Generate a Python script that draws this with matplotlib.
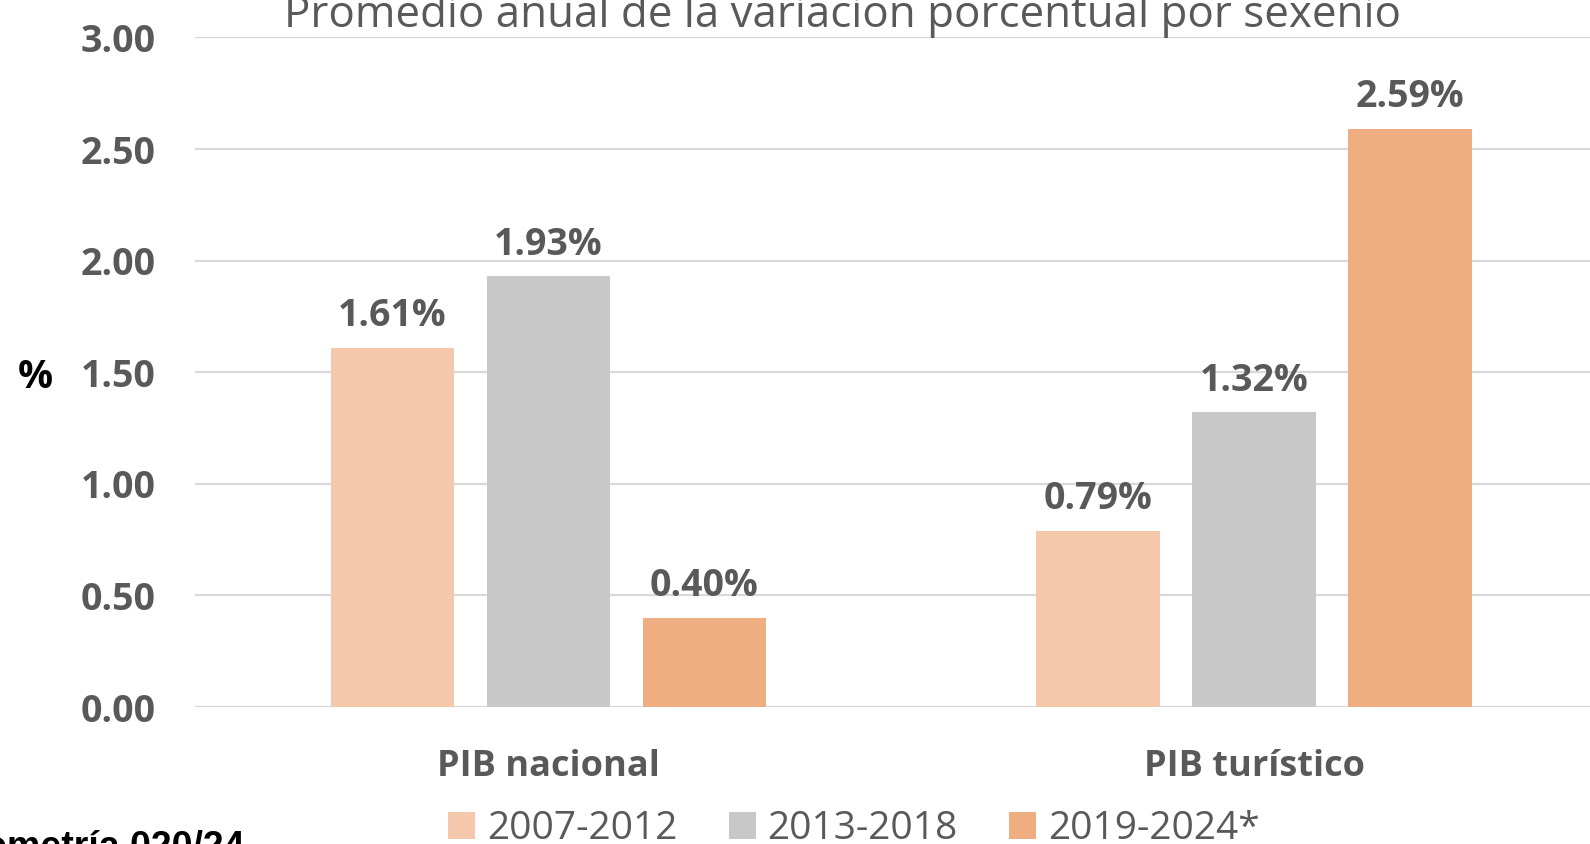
import numpy as np
import matplotlib.pyplot as plt
from matplotlib.patches import Patch

# --------------------------------------
# Data
# --------------------------------------
categorias = ['PIB nacional', 'PIB turístico']
periodos = ['2007-2012', '2013-2018', '2019-2024*']
v_2007_2012 = [1.61, 0.79]
v_2013_2018 = [1.93, 1.32]
v_2019_2024 = [0.40, 2.59]
yticks = [0.0, 0.5, 1.0, 1.5, 2.0, 2.5, 3.0]

colores = ['#F5C8AB', '#C8C8C8', '#EEAE82']
gris = '#595959'
fuente = ['Open Sans', 'DejaVu Sans']

# --------------------------------------
# Figure
# --------------------------------------
fig = plt.figure(figsize=(15.9, 8.44), dpi=100)
ax = fig.add_axes([0.1226, 0.1623, 0.8774, 0.7933])

x = np.arange(len(categorias))
ancho = 0.175
paso = 0.221
series = [v_2007_2012, v_2013_2018, v_2019_2024]
for i, (vals, c) in enumerate(zip(series, colores)):
    barras = ax.bar(x + (i - 1) * paso, vals, ancho, color=c, zorder=3)
    for b, v in zip(barras, vals):
        ax.annotate('%.2f%%' % v, (b.get_x() + b.get_width() / 2, v),
                    xytext=(0, 9), textcoords='offset points',
                    ha='center', va='bottom', fontsize=27,
                    fontweight='bold', color=gris, family=fuente)

ax.set_xlim(-0.501, 1.476)
ax.set_ylim(0, 3)
ax.set_yticks(yticks)
ax.set_yticklabels(['%.2f' % t for t in yticks], fontsize=27,
                   fontweight='bold', color=gris, family=fuente)
ax.set_xticks(x)
ax.set_xticklabels(categorias, fontsize=26, fontweight='bold',
                   color=gris, family=fuente)
ax.tick_params(axis='y', length=0, pad=28)
ax.tick_params(axis='x', length=0, pad=30)
ax.grid(axis='y', color='#D9D9D9', linewidth=1.6, zorder=0)
for s in ax.spines.values():
    s.set_visible(False)

fig.text(0.022, 0.553, '%', fontsize=28, fontweight='bold',
         color='black', ha='center', va='center', family=fuente)

# title, cut off at the top of the screenshot
fig.text(0.530, 0.968, 'Promedio anual de la variación porcentual por sexenio',
         fontsize=31.6, color=gris, ha='center', va='baseline',
         family=['Liberation Sans Narrow', 'Open Sans', 'DejaVu Sans'])

# legend
handles = [Patch(facecolor=c, edgecolor='none') for c in colores]
leg = fig.legend(handles, periodos, loc='center', bbox_to_anchor=(0.537, 0.018),
                 ncol=3, frameon=False, handlelength=0.7, handleheight=0.7,
                 handletextpad=0.3, columnspacing=1.32,
                 prop={'family': fuente, 'size': 28})
for t in leg.get_texts():
    t.set_color(gris)

# source note, cut off at the left
fig.text(-0.010, -0.016, 'ometría 020/24', fontsize=27, fontweight='bold',
         color='black', ha='left', va='baseline',
         family=['Liberation Sans', 'DejaVu Sans'])

plt.savefig('out.png', dpi=100)
